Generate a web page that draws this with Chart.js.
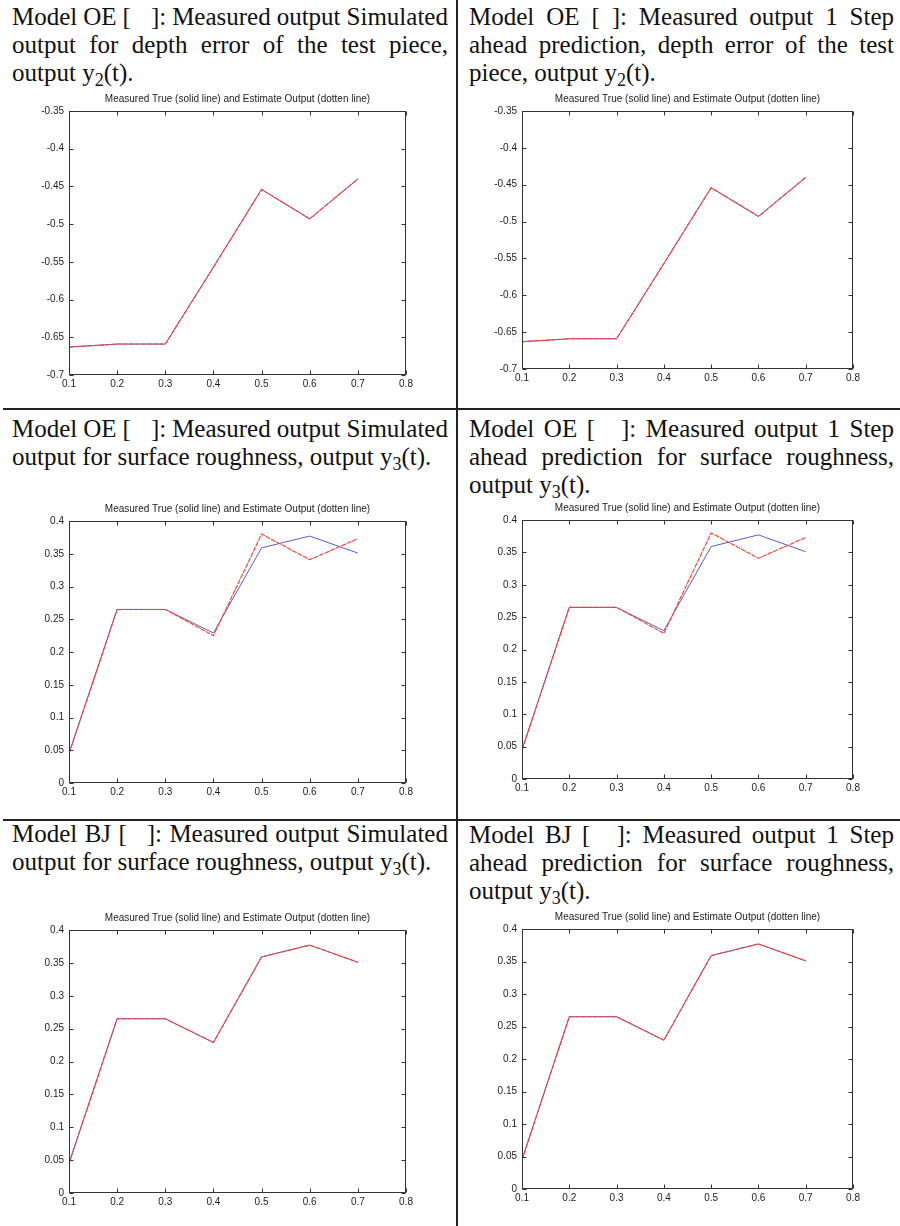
<!DOCTYPE html>
<html><head><meta charset="utf-8">
<script src="https://cdn.jsdelivr.net/npm/chart.js@4.4.0/dist/chart.umd.min.js"></script>
<style>
html,body{margin:0;padding:0;background:#fff;}
#page{position:relative;width:900px;height:1226px;overflow:hidden;background:#fff;}
.cap{position:absolute;font-family:"Liberation Serif","Times New Roman",serif;font-size:25px;line-height:28px;color:#111;}
.j{display:flex;justify-content:space-between;white-space:nowrap;}
.l{white-space:nowrap;}
sub{font-size:0.72em;vertical-align:-0.28em;line-height:0;}
canvas{position:absolute;}
.hr{position:absolute;height:2px;background:#222;}
.vr{position:absolute;width:2px;background:#222;}
.gap{display:inline-block;}
</style></head>
<body><div id="page">
<div class="vr" style="left:456px;top:0;height:1226px"></div>
<div class="hr" style="left:3px;top:408px;width:897px"></div>
<div class="hr" style="left:3px;top:819px;width:897px"></div>

<div class="cap" style="left:12px;top:3px;width:436px">
<div class="j"><span>Model</span><span>OE</span><span>[<span class="gap" style="width:20px"></span>]:</span><span>Measured</span><span>output</span><span>Simulated</span></div>
<div class="j"><span>output</span><span>for</span><span>depth</span><span>error</span><span>of</span><span>the</span><span>test</span><span>piece,</span></div>
<div class="l">output y<sub>2</sub>(t).</div>
</div>

<div class="cap" style="left:469px;top:3px;width:425px">
<div class="j"><span>Model</span><span>OE</span><span>[</span><span>]:</span><span>Measured</span><span>output</span><span>1</span><span>Step</span></div>
<div class="j"><span>ahead</span><span>prediction,</span><span>depth</span><span>error</span><span>of</span><span>the</span><span>test</span></div>
<div class="l">piece, output y<sub>2</sub>(t).</div>
</div>

<div class="cap" style="left:12px;top:415px;width:436px">
<div class="j"><span>Model</span><span>OE</span><span>[<span class="gap" style="width:20px"></span>]:</span><span>Measured</span><span>output</span><span>Simulated</span></div>
<div class="l">output for surface roughness, output y<sub>3</sub>(t).</div>
</div>

<div class="cap" style="left:469px;top:415px;width:425px">
<div class="j"><span>Model</span><span>OE</span><span>[<span class="gap" style="width:26px"></span>]:</span><span>Measured</span><span>output</span><span>1</span><span>Step</span></div>
<div class="j"><span>ahead</span><span>prediction</span><span>for</span><span>surface</span><span>roughness,</span></div>
<div class="l">output y<sub>3</sub>(t).</div>
</div>

<div class="cap" style="left:12px;top:820px;width:436px">
<div class="j"><span>Model</span><span>BJ</span><span>[<span class="gap" style="width:20px"></span>]:</span><span>Measured</span><span>output</span><span>Simulated</span></div>
<div class="l">output for surface roughness, output y<sub>3</sub>(t).</div>
</div>

<div class="cap" style="left:469px;top:821px;width:425px">
<div class="j"><span>Model</span><span>BJ</span><span>[<span class="gap" style="width:26px"></span>]:</span><span>Measured</span><span>output</span><span>1</span><span>Step</span></div>
<div class="j"><span>ahead</span><span>prediction</span><span>for</span><span>surface</span><span>roughness,</span></div>
<div class="l">output y<sub>3</sub>(t).</div>
</div>

<canvas id="c1"></canvas><canvas id="c2"></canvas><canvas id="c3"></canvas>
<canvas id="c4"></canvas><canvas id="c5"></canvas><canvas id="c6"></canvas>
</div>
<script>
// ---- data ----
const xValues = [0.1, 0.2, 0.3, 0.4, 0.5, 0.6, 0.7];
const xTicks = [0.1, 0.2, 0.3, 0.4, 0.5, 0.6, 0.7, 0.8];
const yTicksDepth = [-0.7, -0.65, -0.6, -0.55, -0.5, -0.45, -0.4, -0.35];
const yTicksRough = [0, 0.05, 0.1, 0.15, 0.2, 0.25, 0.3, 0.35, 0.4];

const depthMeasured = [-0.663, -0.659, -0.659, -0.557, -0.454, -0.493, -0.440];
const depthOESimulated = [-0.663, -0.659, -0.659, -0.557, -0.454, -0.493, -0.440];
const depthOEPredicted = [-0.663, -0.659, -0.659, -0.557, -0.454, -0.493, -0.440];

const roughMeasured = [0.045, 0.265, 0.265, 0.229, 0.359, 0.377, 0.351];
const roughOESimulated = [0.045, 0.265, 0.265, 0.225, 0.380, 0.341, 0.373];
const roughOEPredicted = [0.045, 0.265, 0.265, 0.225, 0.380, 0.341, 0.373];
const roughBJSimulated = [0.045, 0.265, 0.265, 0.229, 0.359, 0.377, 0.351];
const roughBJPredicted = [0.045, 0.265, 0.265, 0.229, 0.359, 0.377, 0.351];

const plotTitle = 'Measured True (solid line) and Estimate Output (dotten line)';

// ---- drawing ----
const BLUE = '#4f62cc', RED = '#ff3a2e', AXIS = '#333333', TXT = '#1c1c1c';
const tickFont = {family: '"Liberation Sans", Arial, sans-serif', size: 10};

const boxPlugin = {
  id: 'boxTicks',
  afterDraw(chart) {
    const {ctx, chartArea: a, scales: {x, y}} = chart;
    const L = Math.round(a.left) + 0.5, R = Math.round(a.right) - 0.5;
    const T = Math.round(a.top) + 0.5, B = Math.round(a.bottom) - 0.5;
    ctx.save();
    ctx.strokeStyle = AXIS; ctx.lineWidth = 1;
    ctx.strokeRect(L, T, R - L, B - T);
    ctx.beginPath();
    x.ticks.forEach(t => {
      const p = Math.round(x.getPixelForValue(t.value)) + 0.5;
      ctx.moveTo(p, B); ctx.lineTo(p, B - 4);
      ctx.moveTo(p, T); ctx.lineTo(p, T + 4);
    });
    y.ticks.forEach(t => {
      const p = Math.round(y.getPixelForValue(t.value)) + 0.5;
      ctx.moveTo(L, p); ctx.lineTo(L + 4, p);
      ctx.moveTo(R, p); ctx.lineTo(R - 4, p);
    });
    ctx.stroke();
    ctx.restore();
  }
};

function pairs(ys) { return xValues.map((x, i) => ({x: x, y: ys[i]})); }

function panel(id, pos, yTicks, measured, estimate) {
  const cv = document.getElementById(id);
  cv.width = pos.w; cv.height = pos.h;
  cv.style.left = pos.left + 'px'; cv.style.top = pos.top + 'px';
  cv.style.width = pos.w + 'px'; cv.style.height = pos.h + 'px';
  new Chart(cv, {
    type: 'line',
    data: {datasets: [
      {data: pairs(estimate), borderColor: RED, borderWidth: 1.1, borderDash: [5, 1], pointRadius: 0, tension: 0, fill: false, order: 1},
      {data: pairs(measured), borderColor: BLUE, borderWidth: 1, pointRadius: 0, tension: 0, fill: false, order: 2}
    ]},
    options: {
      responsive: false, animation: false, devicePixelRatio: 1,
      layout: {padding: {left: 0, right: pos.padR, top: 8, bottom: 5}},
      plugins: {
        legend: {display: false}, tooltip: {enabled: false},
        title: {display: true, text: plotTitle, fullSize: false, color: TXT,
          font: {family: '"Liberation Sans", Arial, sans-serif', size: 10, lineHeight: 1, weight: 'normal'},
          padding: {top: 0, bottom: 7}}
      },
      scales: {
        x: {type: 'linear', min: xTicks[0], max: xTicks[xTicks.length - 1],
          afterBuildTicks: s => { s.ticks = xTicks.map(v => ({value: v})); },
          afterFit: s => { s.height = 20; },
          grid: {display: false, drawTicks: false}, border: {display: false},
          ticks: {callback: v => String(v), font: tickFont, color: TXT, padding: 3, maxRotation: 0, autoSkip: false}},
        y: {type: 'linear', min: yTicks[0], max: yTicks[yTicks.length - 1],
          afterBuildTicks: s => { s.ticks = yTicks.map(v => ({value: v})); },
          afterFit: s => { s.width = pos.yW; },
          grid: {display: false, drawTicks: false}, border: {display: false},
          ticks: {callback: v => String(v), font: tickFont, color: TXT, padding: 5, autoSkip: false}}
      }
    },
    plugins: [boxPlugin]
  });
}

panel('c1', {left: 0, top: 86, w: 440, h: 314, yW: 69, padR: 34}, yTicksDepth, depthMeasured, depthOESimulated);
panel('c2', {left: 460, top: 86, w: 430, h: 308, yW: 62, padR: 37}, yTicksDepth, depthMeasured, depthOEPredicted);
panel('c3', {left: 0, top: 496, w: 440, h: 312, yW: 69, padR: 34}, yTicksRough, roughMeasured, roughOESimulated);
panel('c4', {left: 460, top: 495, w: 430, h: 309, yW: 62, padR: 37}, yTicksRough, roughMeasured, roughOEPredicted);
panel('c5', {left: 0, top: 905, w: 440, h: 313, yW: 69, padR: 34}, yTicksRough, roughMeasured, roughBJSimulated);
panel('c6', {left: 460, top: 904, w: 430, h: 310, yW: 62, padR: 37}, yTicksRough, roughMeasured, roughBJPredicted);
</script>
</body></html>
